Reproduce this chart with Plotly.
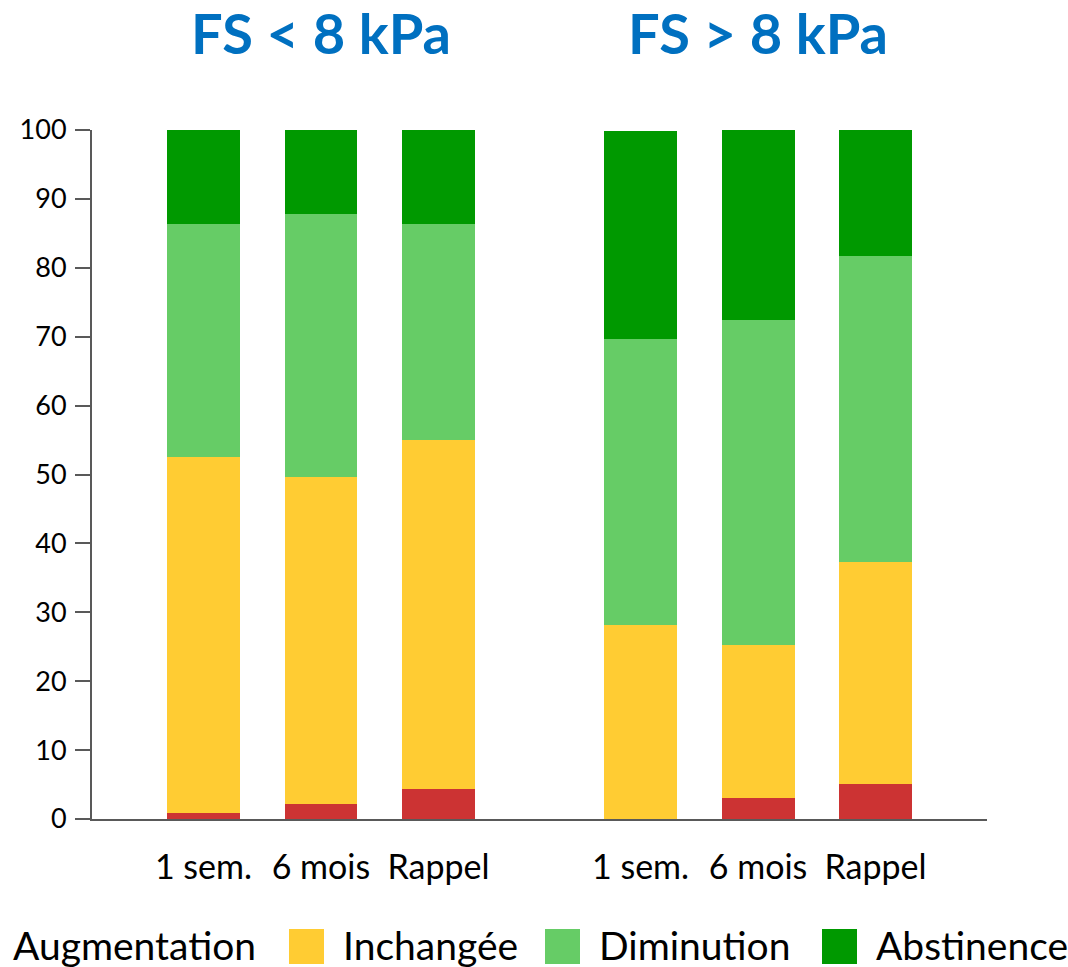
import plotly.graph_objects as go

# ---- data ----
groups = ["FS < 8 kPa", "FS > 8 kPa"]
periods = ["1 sem.", "6 mois", "Rappel"]
series_names = ["Augmentation", "Inchangée", "Diminution", "Abstinence"]
augmentation = [0.9, 2.2, 4.4, 0.0, 3.0, 5.1]
inchangee = [51.6, 47.4, 50.6, 28.2, 22.3, 32.2]
diminution = [33.9, 38.2, 31.4, 41.5, 47.1, 44.4]
abstinence = [13.6, 12.2, 13.6, 30.2, 27.6, 18.3]
y_ticks = [0, 10, 20, 30, 40, 50, 60, 70, 80, 90, 100]

colors = ["#CC3333", "#FFCC33", "#66CC66", "#009900"]
series_values = [augmentation, inchangee, diminution, abstinence]

# bar positions: two groups of three with a wider gap between groups
group_gap = 0.72
xpos = []
xlabels = []
for g in range(len(groups)):
    for i, p in enumerate(periods):
        xpos.append(g * (len(periods) + group_gap) + i)
        xlabels.append(p)

fig = go.Figure()
for name, vals, col in zip(series_names, series_values, colors):
    fig.add_trace(go.Bar(x=xpos, y=vals, name=name, marker=dict(color=col, line=dict(width=0)),
                         width=0.621, showlegend=False))

FONT = "Lato, 'Noto Sans', sans-serif"

# plot area pixel geometry
L, R, T, B = 92, 987, 130, 819
W, H = 1068, 967

def px(xp):
    return (xp - L) / (R - L)

def py(yp):
    return (B - yp) / (B - T)

annotations = []
# group titles
for g, title in enumerate(groups):
    cx = g * (len(periods) + group_gap) + 1
    annotations.append(dict(x=cx, y=py(32), xref="x", yref="paper", text="<b>%s</b>" % title,
                            showarrow=False, xanchor="center", yanchor="middle",
                            font=dict(family=FONT, size=56, color="#0070C0")))

# legend (manual): text left edge, swatch left edge (the first swatch lies off the canvas)
legend_items = [("Augmentation", 11, None), ("Inchangée", 341, 289), ("Diminution", 597, 545),
                ("Abstinence", 874, 822)]
shapes = []
for (name, tx, sx), col in zip(legend_items, colors):
    annotations.append(dict(x=px(tx), y=py(945), xref="paper", yref="paper", text=name,
                            showarrow=False, xanchor="left", yanchor="middle",
                            font=dict(family=FONT, size=39, color="#000000")))
    if sx is not None:
        shapes.append(dict(type="rect", xref="paper", yref="paper", x0=px(sx), x1=px(sx + 35),
                           y0=py(964), y1=py(929), fillcolor=col, line=dict(width=0)))

fig.update_layout(
    barmode="stack",
    width=W, height=H,
    margin=dict(l=L, r=W - R, t=T, b=H - B, autoexpand=False),
    paper_bgcolor="white", plot_bgcolor="white",
    font=dict(family=FONT, size=27, color="#000000"),
    annotations=annotations,
    shapes=shapes,
    bargap=0,
)
fig.update_xaxes(range=[-0.949, xpos[-1] + 0.949], tickvals=xpos, ticktext=xlabels,
                 showline=True, linecolor="#595959", linewidth=2, ticks="", showgrid=False,
                 zeroline=False, tickfont=dict(size=34), ticklabelstandoff=17)
fig.update_yaxes(range=[0, 100], tickvals=y_ticks, showline=True, linecolor="#595959", linewidth=2,
                 ticks="outside", ticklen=15, tickwidth=2, tickcolor="#595959", showgrid=False,
                 zeroline=False, tickfont=dict(size=27), ticklabelstandoff=3)

fig.write_html("out.html", config={"displayModeBar": False},
               post_script="document.body.style.margin='0';document.body.style.overflow='hidden';")
